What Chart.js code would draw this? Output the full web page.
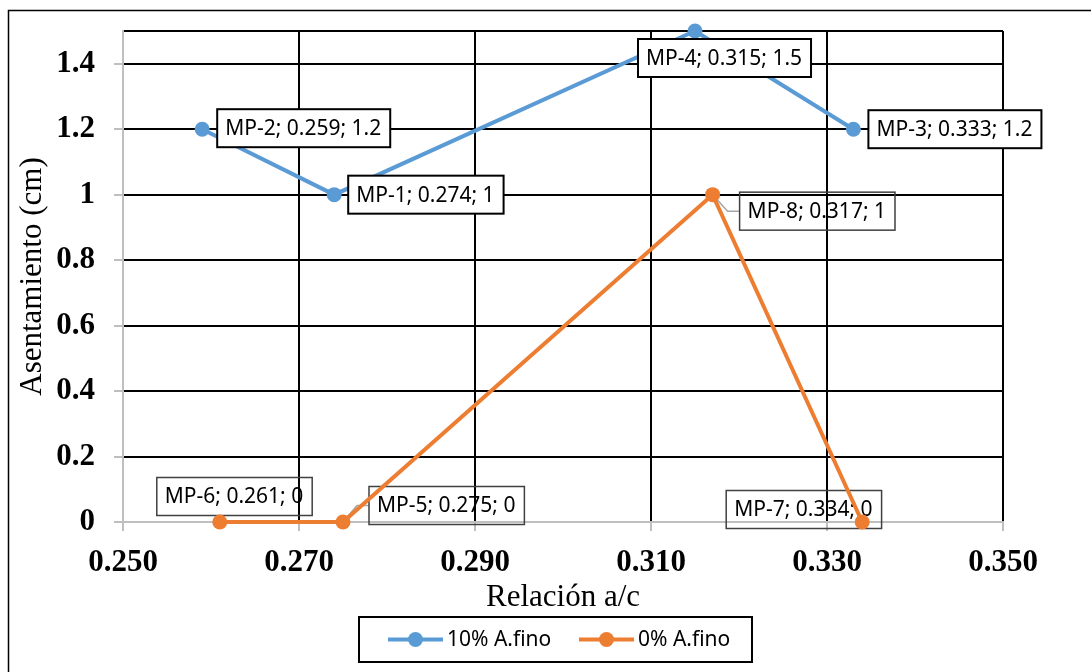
<!DOCTYPE html>
<html>
<head>
<meta charset="utf-8">
<script src="https://cdn.jsdelivr.net/npm/chart.js@4.4.1/dist/chart.umd.min.js"></script>
<style>
  html, body { margin: 0; padding: 0; background: #fff; }
  canvas { display: block; }
</style>
</head>
<body>
<canvas id="chart" width="1091" height="672"></canvas>
<script>
// Data
const names10 = ["MP-2", "MP-1", "MP-4", "MP-3"];
const relAC10 = [0.259, 0.274, 0.315, 0.333];
const asent10 = [1.2, 1, 1.5, 1.2];

const names0 = ["MP-6", "MP-5", "MP-8", "MP-7"];
const relAC0 = [0.261, 0.275, 0.317, 0.334];
const asent0 = [0, 0, 1, 0];

const xTicks = [0.250, 0.270, 0.290, 0.310, 0.330, 0.350];
const yTicks = [0, 0.2, 0.4, 0.6, 0.8, 1, 1.2, 1.4];
const yMax = 1.5;

function points(names, xs, ys) {
  return xs.map((x, i) => ({ x: x, y: ys[i], name: names[i] }));
}

// label box placement: [dx to box left, dy to box centre, leader line]
const labelStyles = [
  { front: true, fill: "#fff", stroke: "#000", lw: 2,
    offsets: [[15, -1], [14, 0], [-57, 27], [15, 0]] },
  { front: false, fill: null, stroke: "#404040", lw: 1.5,
    offsets: [[-63, -25.5], [26, -16.5, true], [27, 16.5, true], [-136, -12.5]] }
];

const labelFont = '21px "Noto Sans"';

function drawLabels(chart, front) {
  const ctx = chart.ctx;
  chart.data.datasets.forEach((ds, di) => {
    const st = labelStyles[di];
    if (st.front !== front) return;
    const meta = chart.getDatasetMeta(di);
    meta.data.forEach((pt, i) => {
      const d = ds.data[i];
      const text = d.name + "; " + d.x.toFixed(3) + "; " + d.y;
      const off = st.offsets[i];
      ctx.save();
      ctx.font = labelFont;
      const w = ctx.measureText(text).width + 17;
      const h = 38;
      const bx = pt.x + off[0];
      const cy = pt.y + off[1];
      if (off[2]) {
        ctx.strokeStyle = "#a6a6a6";
        ctx.lineWidth = 1.5;
        ctx.beginPath();
        ctx.moveTo(pt.x, pt.y);
        ctx.lineTo(bx - 12, cy);
        ctx.lineTo(bx, cy);
        ctx.stroke();
      }
      if (st.fill) {
        ctx.fillStyle = st.fill;
        ctx.fillRect(bx, cy - h / 2, w, h);
      }
      ctx.strokeStyle = st.stroke;
      ctx.lineWidth = st.lw;
      ctx.strokeRect(bx, cy - h / 2, w, h);
      ctx.fillStyle = "#000";
      ctx.textBaseline = "middle";
      ctx.textAlign = "left";
      ctx.fillText(text, bx + 8, cy + 1);
      ctx.restore();
    });
  });
}

const labelPlugin = {
  id: "pointLabels",
  beforeDatasetsDraw(chart) { drawLabels(chart, false); },
  afterDatasetsDraw(chart) { drawLabels(chart, true); }
};

const framePlugin = {
  id: "frame",
  beforeDraw(chart) {
    const ctx = chart.ctx;
    ctx.save();
    ctx.fillStyle = "#fff";
    ctx.fillRect(0, 0, chart.width, chart.height);
    ctx.strokeStyle = "#000";
    ctx.lineWidth = 1.5;
    ctx.beginPath();
    ctx.moveTo(8.5, chart.height);
    ctx.lineTo(8.5, 10.5);
    ctx.lineTo(chart.width, 10.5);
    ctx.stroke();
    ctx.restore();
  }
};

const legendPlugin = {
  id: "boxLegend",
  afterDraw(chart) {
    const ctx = chart.ctx;
    const starts = [388, 579];
    const y = 639.5;
    ctx.save();
    ctx.strokeStyle = "#000";
    ctx.lineWidth = 2;
    ctx.strokeRect(359, 617, 393, 45);
    ctx.font = labelFont;
    ctx.textBaseline = "middle";
    chart.data.datasets.forEach((ds, i) => {
      const x = starts[i];
      ctx.strokeStyle = ds.borderColor;
      ctx.lineWidth = 4;
      ctx.beginPath();
      ctx.moveTo(x, y);
      ctx.lineTo(x + 55, y);
      ctx.stroke();
      ctx.fillStyle = ds.borderColor;
      ctx.beginPath();
      ctx.arc(x + 27.5, y, 7.5, 0, Math.PI * 2);
      ctx.fill();
      ctx.fillStyle = "#000";
      ctx.fillText(ds.label, x + 59, y + 1);
    });
    ctx.restore();
  }
};

const tickFont = { family: '"Liberation Serif", "Times New Roman", serif', size: 31, weight: "bold" };
const titleFont = { family: '"Liberation Serif", "Times New Roman", serif', size: 31 };

new Chart(document.getElementById("chart").getContext("2d"), {
  type: "scatter",
  data: {
    datasets: [{
      label: "10% A.fino",
      data: points(names10, relAC10, asent10),
      showLine: true,
      borderColor: "#5B9BD5",
      backgroundColor: "#5B9BD5",
      borderWidth: 4,
      pointRadius: 7.5,
      pointBorderWidth: 0,
      clip: false
    }, {
      label: "0% A.fino",
      data: points(names0, relAC0, asent0),
      showLine: true,
      borderColor: "#ED7D31",
      backgroundColor: "#ED7D31",
      borderWidth: 4,
      pointRadius: 7.5,
      pointBorderWidth: 0,
      clip: false
    }]
  },
  options: {
    responsive: false,
    animation: false,
    devicePixelRatio: 1,
    layout: { padding: { left: 0, top: 31, right: 88, bottom: 56 } },
    plugins: {
      legend: { display: false },
      tooltip: { enabled: false }
    },
    scales: {
      x: {
        type: "linear",
        min: 0.25,
        max: 0.35,
        afterBuildTicks: (scale) => { scale.ticks = xTicks.map(v => ({ value: v })); },
        afterFit: (scale) => {
          scale.height = 94;
          scale.paddingLeft = 0;
          scale.paddingRight = 0;
        },
        ticks: {
          callback: (v) => v.toFixed(3),
          font: tickFont,
          color: "#000",
          padding: 13,
          maxRotation: 0
        },
        grid: { color: "#000", lineWidth: 2, tickColor: "#bfbfbf", tickLength: 9, tickWidth: 2 },
        border: { color: "#bfbfbf", width: 2 },
        title: { display: true, text: "Relación a/c", font: titleFont, color: "#000", padding: { top: 0, bottom: 0 } }
      },
      y: {
        min: 0,
        max: yMax,
        afterBuildTicks: (scale) => { scale.ticks = yTicks.concat([yMax]).map(v => ({ value: v })); },
        afterFit: (scale) => {
          scale.width = 123;
          scale.paddingTop = 0;
          scale.paddingBottom = 0;
        },
        ticks: {
          callback: (v) => yTicks.includes(v) ? String(v) : "",
          font: tickFont,
          color: "#000",
          padding: 19
        },
        grid: {
          color: "#000",
          lineWidth: 2,
          tickLength: 9,
          tickWidth: 2,
          tickColor: (c) => (c.tick && c.tick.value === yMax) ? "rgba(0,0,0,0)" : "#bfbfbf"
        },
        border: { color: "#bfbfbf", width: 2 },
        title: { display: true, text: "Asentamiento (cm)", font: titleFont, color: "#000", padding: { top: 14, bottom: 0 } }
      }
    }
  },
  plugins: [framePlugin, labelPlugin, legendPlugin]
});
</script>
</body>
</html>
